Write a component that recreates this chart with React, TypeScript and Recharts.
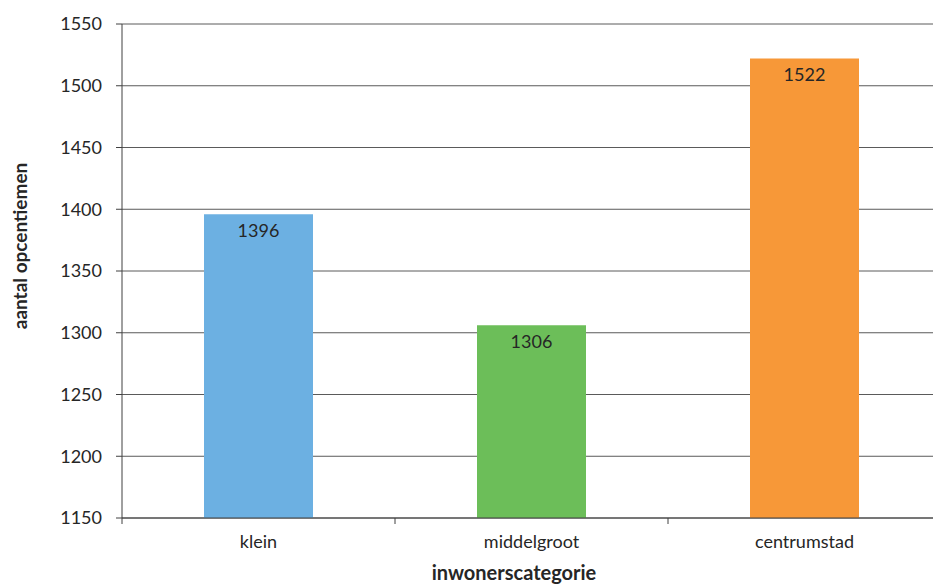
import {
  BarChart,
  Bar,
  XAxis,
  YAxis,
  CartesianGrid,
  LabelList,
  Cell,
} from "recharts";

const categories = ["klein", "middelgroot", "centrumstad"];
const values = [1396, 1306, 1522];
const barColors = ["#6CB0E2", "#6CBE59", "#F79838"];
const yTicks = [1150, 1200, 1250, 1300, 1350, 1400, 1450, 1500, 1550];

const data = categories.map((name, i) => ({ name, value: values[i] }));

const FONT = "Lato, 'Open Sans', sans-serif";
const AXIS = "#404040";
const CHART_W = 950;
const LEFT = 122;
const RIGHT = 9;

// category label plus a tick mark on the left edge of each band (Excel style)
function CategoryTick(props: any) {
  const { x, y, payload } = props;
  const half =
    payload && payload.offset > 10
      ? payload.offset
      : (CHART_W - LEFT - RIGHT) / categories.length / 2;
  return (
    <g>
      <line x1={x - half} x2={x - half} y1={y - 17} y2={y - 11} stroke={AXIS} />
      <text
        x={x}
        y={y}
        dy="0.71em"
        textAnchor="middle"
        fill="#262626"
        fontSize={18}
        fontFamily={FONT}
      >
        {payload.value}
      </text>
    </g>
  );
}

export default function App() {
  return (
    <div
      style={{
        position: "absolute",
        left: 0,
        top: 0,
        width: 933,
        height: 584,
        overflow: "hidden",
        background: "#fff",
        fontFamily: FONT,
      }}
    >
      <BarChart
        width={CHART_W}
        height={584}
        data={data}
        margin={{ top: 24, right: RIGHT, bottom: 0, left: 0 }}
        barSize={109}
      >
        <CartesianGrid vertical={false} stroke="#5a5a5a" />
        <XAxis
          dataKey="name"
          height={66}
          tickLine={false}
          tickSize={0}
          tickMargin={17}
          axisLine={{ stroke: AXIS }}
          tick={<CategoryTick />}
          label={{
            content: () => (
              <text
                x={514}
                y={580}
                textAnchor="middle"
                fontWeight="bold"
                fontSize={20}
                fill="#262626"
                fontFamily={FONT}
              >
                inwonerscategorie
              </text>
            ),
          }}
        />
        <YAxis
          domain={[1150, 1550]}
          ticks={yTicks}
          width={LEFT}
          tickSize={6}
          tickMargin={14}
          stroke={AXIS}
          tick={{ fill: "#262626", fontSize: 18, fontFamily: FONT }}
          label={{
            content: () => (
              <text
                x={27}
                y={246}
                transform="rotate(-90 27 246)"
                textAnchor="middle"
                fontWeight="bold"
                fontSize={19}
                fill="#262626"
                fontFamily={FONT}
              >
                aantal opcentiemen
              </text>
            ),
          }}
        />
        <Bar dataKey="value" isAnimationActive={false}>
          {data.map((_, i) => (
            <Cell key={`c-${i}`} fill={barColors[i]} />
          ))}
          <LabelList
            dataKey="value"
            position="insideTop"
            offset={10}
            fill="#262626"
            fontSize={18}
            fontFamily={FONT}
          />
        </Bar>
      </BarChart>
    </div>
  );
}
